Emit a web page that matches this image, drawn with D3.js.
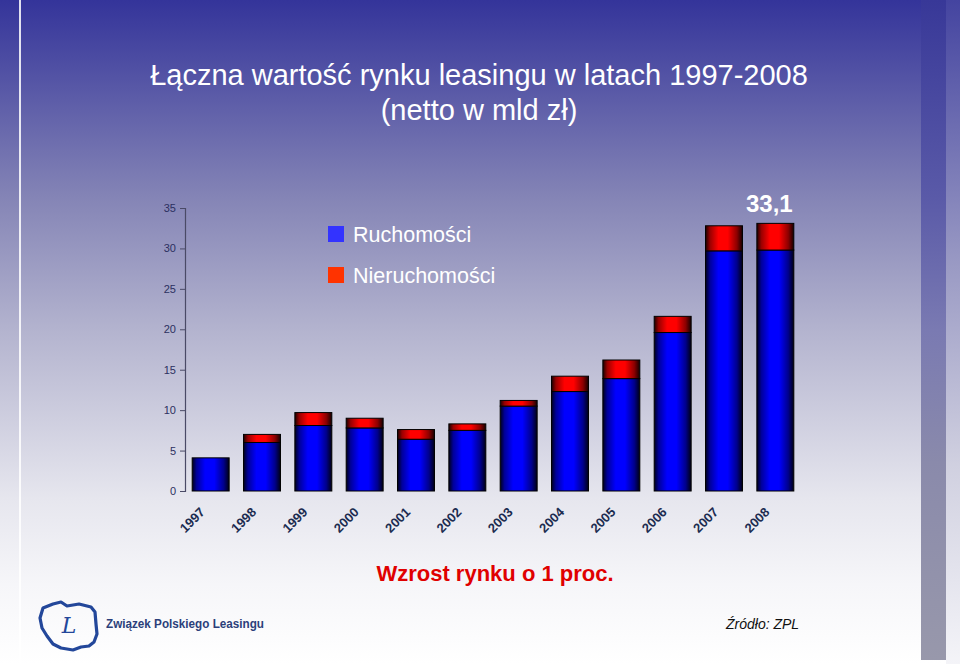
<!DOCTYPE html>
<html>
<head>
<meta charset="utf-8">
<script src="https://cdn.jsdelivr.net/npm/d3@7"></script>
<style>
  html, body { margin: 0; padding: 0; background: #fff; }
  svg { display: block; font-family: "Liberation Sans", Arial, sans-serif; }
</style>
</head>
<body>
<div id="chart"></div>
<script>
const years = ['1997', '1998', '1999', '2000', '2001', '2002', '2003', '2004', '2005', '2006', '2007', '2008'];
const ruchomosci = [4.1, 6.0, 8.1, 7.8, 6.4, 7.5, 10.5, 12.3, 13.9, 19.6, 29.7, 29.8];
const nieruchomosci = [0.0, 1.0, 1.6, 1.2, 1.2, 0.8, 0.7, 1.9, 2.3, 2.0, 3.1, 3.3];
const seriesNames = ['Ruchomości', 'Nieruchomości'];
const yTicks = [0, 5, 10, 15, 20, 25, 30, 35];
const totalLabel = '33,1';

const W = 960, H = 664;
const margin = { top: 208, left: 185, bottom: 173 };
const plotW = 616;
const plotH = H - margin.top - margin.bottom;

const svg = d3.select('#chart').append('svg').attr('width', W).attr('height', H);
const defs = svg.append('defs');

// background gradients
const bg = defs.append('linearGradient').attr('id', 'bg').attr('x1', 0).attr('y1', 0).attr('x2', 0).attr('y2', 1);
[[0, '#34349a'], [0.3, '#8585b6'], [0.5, '#b4b4cf'], [0.75, '#e6e6ee'], [0.88, '#f6f6f9'], [1, '#ffffff']]
  .forEach(s => bg.append('stop').attr('offset', s[0]).attr('stop-color', s[1]));

const side = defs.append('linearGradient').attr('id', 'side').attr('x1', 0).attr('y1', 0).attr('x2', 0).attr('y2', 1);
[[0, '#383898'], [0.3, '#5a5aa8'], [0.5, '#7a7ab2'], [0.7, '#8a8aab'], [1, '#9898ab']]
  .forEach(s => side.append('stop').attr('offset', s[0]).attr('stop-color', s[1]));

const edge = defs.append('linearGradient').attr('id', 'edge').attr('x1', 0).attr('y1', 0).attr('x2', 0).attr('y2', 1);
[[0, '#4444a0'], [0.4, '#9a9ac4'], [0.7, '#d0d0e0'], [1, '#f4f4f8']]
  .forEach(s => edge.append('stop').attr('offset', s[0]).attr('stop-color', s[1]));

svg.append('rect').attr('width', W).attr('height', H).attr('fill', 'url(#bg)');
svg.append('rect').attr('x', 19).attr('y', 0).attr('width', 2).attr('height', H).attr('fill', '#ffffff').attr('opacity', 0.85);
svg.append('rect').attr('x', 921).attr('y', 0).attr('width', 25).attr('height', H - 4).attr('fill', 'url(#side)');
svg.append('rect').attr('x', 946).attr('y', 0).attr('width', 14).attr('height', H).attr('fill', 'url(#edge)');

// bar shading (cylinder look)
function barGrad(id, c) {
  const g = defs.append('linearGradient').attr('id', id).attr('x1', 0).attr('y1', 0).attr('x2', 1).attr('y2', 0);
  const dark = d3.interpolateRgb('#000000', c);
  [[0, dark(0.1)], [0.12, dark(0.6)], [0.35, c], [0.6, c], [0.85, dark(0.55)], [1, dark(0.08)]]
    .forEach(s => g.append('stop').attr('offset', s[0]).attr('stop-color', s[1]));
}
barGrad('gBlue', '#0000ff');
barGrad('gRed', '#ff0000');

// title
const title = svg.append('text').attr('x', 479).attr('fill', '#ffffff').attr('font-size', 29).attr('text-anchor', 'middle');
title.append('tspan').attr('x', 479).attr('y', 85).text('Łączna wartość rynku leasingu w latach 1997-2008');
title.append('tspan').attr('x', 479).attr('y', 120).text('(netto w mld zł)');

// scales
const x = d3.scaleBand().domain(years).range([margin.left, margin.left + plotW]).paddingInner(0.28).paddingOuter(0.14);
const y = d3.scaleLinear().domain([0, 35]).range([margin.top + plotH, margin.top]);

const data = years.map((yr, i) => ({ year: yr, ruch: ruchomosci[i], nier: nieruchomosci[i] }));
const stacked = d3.stack().keys(['ruch', 'nier'])(data);

// y axis
const yAxis = svg.append('g').attr('transform', `translate(${margin.left},0)`)
  .call(d3.axisLeft(y).tickValues(yTicks).tickSize(5).tickPadding(4));
yAxis.select('.domain').attr('stroke', '#4a4a66').attr('stroke-width', 1.2);
yAxis.selectAll('.tick line').attr('stroke', '#4a4a66');
yAxis.selectAll('.tick text').attr('fill', '#2c3060').attr('font-size', 11).attr('font-family', '"Liberation Sans", Arial, sans-serif');

// bars
const fills = ['url(#gBlue)', 'url(#gRed)'];
svg.append('g').selectAll('g').data(stacked).join('g')
  .attr('fill', (d, i) => fills[i])
  .selectAll('rect').data(d => d.filter(p => p[1] - p[0] > 0)).join('rect')
  .attr('x', d => x(d.data.year))
  .attr('width', x.bandwidth())
  .attr('y', d => y(d[1]))
  .attr('height', d => y(d[0]) - y(d[1]))
  .attr('stroke', '#000000')
  .attr('stroke-width', 1);

// x labels
svg.append('g').selectAll('text').data(years).join('text')
  .attr('transform', d => `translate(${x(d) + x.bandwidth() / 2 - 5},513) rotate(-45)`)
  .attr('text-anchor', 'end')
  .attr('font-size', 13).attr('font-weight', 'bold').attr('fill', '#1c2c50')
  .text(d => d);

// total label on last bar
const last = data[data.length - 1];
svg.append('text')
  .attr('x', x(last.year) + x.bandwidth() / 2 - 6)
  .attr('y', y(last.ruch + last.nier) - 11)
  .attr('text-anchor', 'middle').attr('font-size', 24).attr('font-weight', 'bold').attr('fill', '#ffffff')
  .text(totalLabel);

// legend
const legColors = ['#3333ff', '#ff3300'];
const leg = svg.append('g').selectAll('g').data(seriesNames).join('g')
  .attr('transform', (d, i) => `translate(328,${226 + i * 41})`);
leg.append('rect').attr('width', 16).attr('height', 16).attr('fill', (d, i) => legColors[i]);
leg.append('text').attr('x', 25).attr('y', 16).attr('font-size', 21.5).attr('fill', '#ffffff').text(d => d);

// footer
svg.append('text').attr('x', 495).attr('y', 581).attr('text-anchor', 'middle')
  .attr('font-size', 22).attr('font-weight', 'bold').attr('fill', '#e00000')
  .text('Wzrost rynku o 1 proc.');

svg.append('text').attr('x', 726).attr('y', 629)
  .attr('font-size', 14).attr('font-style', 'italic').attr('fill', '#111111')
  .text('Źródło: ZPL');

// logo
const logo = svg.append('g').attr('transform', 'translate(39,600)');
logo.append('path')
  .attr('d', 'M4,8 L14,4 L22,2 L28,6 L40,4 L52,7 L56,12 L57,24 L58,34 L55,42 L50,46 L42,47 L34,50 L22,48 L14,44 L8,36 L3,28 L1,18 Z')
  .attr('fill', 'none').attr('stroke', '#23479a').attr('stroke-width', 3.2).attr('stroke-linejoin', 'round');
logo.append('text').attr('x', 30).attr('y', 33).attr('text-anchor', 'middle')
  .attr('font-family', '"DejaVu Serif", serif').attr('font-style', 'italic').attr('font-size', 22).attr('fill', '#23479a')
  .text('L');
svg.append('text').attr('x', 106).attr('y', 628)
  .attr('font-size', 12).attr('font-weight', 'bold').attr('fill', '#2b3f7a')
  .attr('textLength', 158).attr('lengthAdjust', 'spacingAndGlyphs')
  .text('Związek Polskiego Leasingu');
</script>
</body>
</html>
